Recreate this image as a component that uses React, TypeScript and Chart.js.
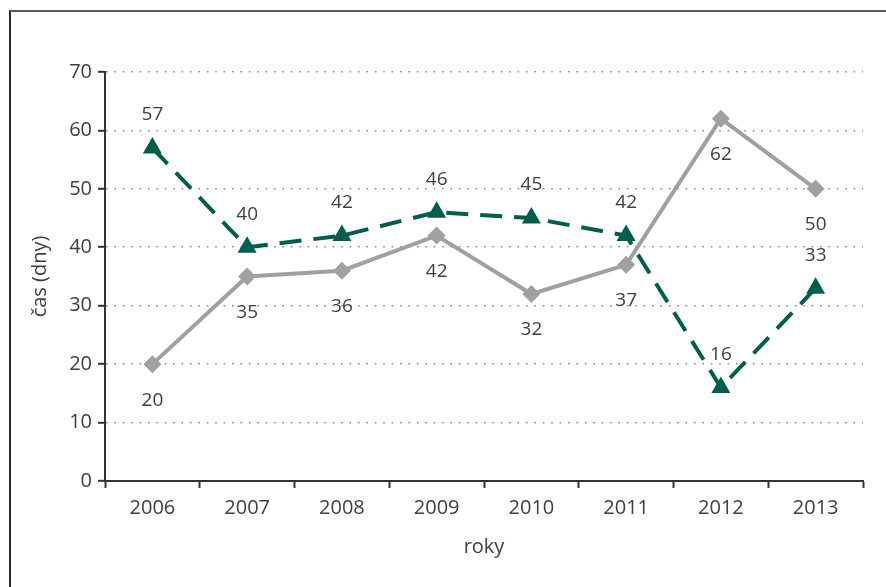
import React, { useEffect, useRef } from "react";
import { Chart, registerables } from "chart.js";

Chart.register(...registerables);

const years = ["2006", "2007", "2008", "2009", "2010", "2011", "2012", "2013"];
const graySeries = [20, 35, 36, 42, 32, 37, 62, 50];
const greenSeries = [57, 40, 42, 46, 45, 42, 16, 33];
const yTitle = "čas (dny)";
const xTitle = "roky";

const FONT = "'Open Sans', 'DejaVu Sans', sans-serif";
const TEXT = "#404040";
const GRAY = "#a0a0a0";
const GREEN = "#005f4c";

const labelPlugin = {
  id: "valueLabels",
  afterDatasetsDraw(chart: any) {
    const ctx = chart.ctx;
    ctx.save();
    ctx.font = `19px ${FONT}`;
    ctx.fillStyle = TEXT;
    ctx.textAlign = "center";
    ctx.textBaseline = "middle";
    chart.data.datasets.forEach((ds: any, di: number) => {
      const meta = chart.getDatasetMeta(di);
      const below = ds.labelPos === "below";
      meta.data.forEach((pt: any, i: number) => {
        const y = below ? pt.y + 36 : pt.y - 33;
        ctx.fillText(String(ds.data[i]), pt.x, y);
      });
    });
    ctx.restore();
  },
};

export default function App() {
  const ref = useRef<HTMLCanvasElement | null>(null);

  useEffect(() => {
    if (!ref.current) return;
    const chart = new Chart(ref.current, {
      type: "line",
      data: {
        labels: years,
        datasets: [
          {
            data: graySeries,
            borderColor: GRAY,
            backgroundColor: GRAY,
            borderWidth: 4,
            pointStyle: "rectRot",
            pointRadius: 9,
            pointBorderWidth: 0,
            pointBackgroundColor: GRAY,
            tension: 0,
            labelPos: "below",
          } as any,
          {
            data: greenSeries,
            borderColor: GREEN,
            backgroundColor: GREEN,
            borderWidth: 4,
            borderDash: [22, 12],
            pointStyle: "triangle",
            pointRadius: 11,
            pointBorderWidth: 0,
            pointBackgroundColor: GREEN,
            tension: 0,
            labelPos: "above",
          } as any,
        ],
      },
      options: {
        responsive: false,
        animation: false,
        devicePixelRatio: 1,
        layout: { padding: { top: 72, right: 23, left: 0, bottom: 0 } },
        plugins: {
          legend: { display: false },
          tooltip: { enabled: false },
        },
        scales: {
          x: {
            offset: true,
            grid: {
              offset: true,
              drawOnChartArea: false,
              drawTicks: true,
              tickLength: 7,
              tickColor: "#333",
              tickWidth: 2,
            },
            border: { color: "#333", width: 2 },
            ticks: { color: TEXT, font: { family: FONT, size: 20 }, padding: 8 },
            title: {
              display: true,
              text: xTitle,
              color: TEXT,
              font: { family: FONT, size: 20 },
              padding: { top: 0, bottom: 28 },
            },
            afterFit: (s: any) => {
              s.height = 106;
            },
          },
          y: {
            min: 0,
            max: 70,
            ticks: { stepSize: 10, color: TEXT, font: { family: FONT, size: 20 }, padding: 6 },
            grid: {
              color: "#8a8a8a",
              lineWidth: 1.6,
              drawTicks: true,
              tickLength: 7,
              tickColor: "#333",
              tickWidth: 2,
              tickBorderDash: [],
            },
            border: { color: "#333", width: 2, dash: [1.6, 6.8] },
            title: {
              display: true,
              text: yTitle,
              color: TEXT,
              font: { family: FONT, size: 20 },
              padding: { top: 28, bottom: 0 },
            },
            afterFit: (s: any) => {
              s.width = 105;
            },
          },
        },
      },
      plugins: [labelPlugin],
    } as any);
    return () => chart.destroy();
  }, []);

  return (
    <div style={{ position: "fixed", left: 0, top: 0, width: 886, height: 587, background: "#fff", overflow: "hidden" }}>
      <div
        style={{
          position: "absolute",
          left: 9,
          top: 10,
          right: -10,
          bottom: -10,
          borderTop: "2px solid #5a5a5a",
          borderLeft: "2px solid #2a2a2a",
        }}
      />
      <canvas ref={ref} width={886} height={587} style={{ position: "absolute", left: 0, top: 0 }} />
    </div>
  );
}
